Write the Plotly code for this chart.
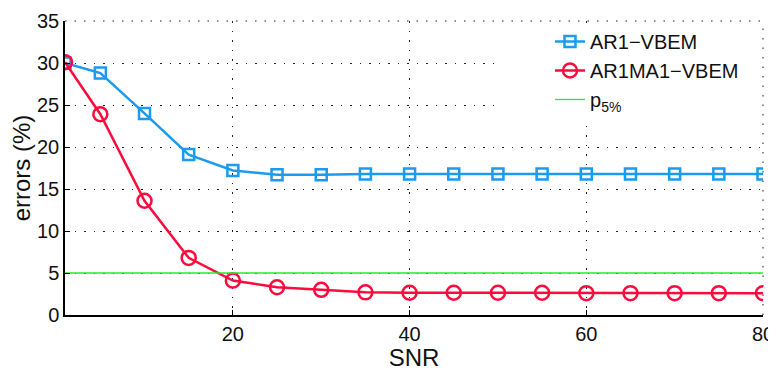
import plotly.graph_objects as go

snr = [1, 5, 10, 15, 20, 25, 30, 35, 40, 45, 50, 55, 60, 65, 70, 75, 80]
ar1_vbem = [30.0, 28.8, 24.0, 19.1, 17.2, 16.7, 16.7, 16.8, 16.8, 16.8, 16.8, 16.8, 16.8, 16.8, 16.8, 16.8, 16.8]
ar1ma1_vbem = [30.1, 23.9, 13.6, 6.8, 4.1, 3.3, 3.0, 2.7, 2.65, 2.65, 2.65, 2.65, 2.6, 2.6, 2.6, 2.6, 2.6]
p5_x = [1, 80]
p5_y = [5, 5]

blue = "#1a9bf0"
red = "#ff0a3c"
green = "#22ee22"

FONT = "Liberation Sans, Arial, sans-serif"
GRID_DASH = "1.5px,8px"
GRID_COLOR = "#222222"

# plot area in window pixels (page body adds an 8px offset)
PL, PR, PT, PB = 65, 763, 21, 315
W, H = 768, 363


def px(x):
    return (x - PL) / (PR - PL)


def py(y):
    return (PB - y) / (PB - PT)


fig = go.Figure()
fig.add_trace(go.Scatter(x=snr, y=ar1_vbem, mode="lines+markers", name="AR1\u2212VBEM",
                         line=dict(color=blue, width=2.5),
                         marker=dict(symbol="square-open", size=11, color=blue, line=dict(width=2.5))))
fig.add_trace(go.Scatter(x=snr, y=ar1ma1_vbem, mode="lines+markers", name="AR1MA1\u2212VBEM",
                         line=dict(color=red, width=2.5),
                         marker=dict(symbol="circle-open", size=14, color=red, line=dict(width=2.5))))
fig.add_trace(go.Scatter(x=p5_x, y=p5_y, mode="lines", name="p<sub>5%</sub>",
                         line=dict(color=green, width=1.3)))

# dotted frame on top and right (grid at the axis ends, which plotly skips)
fig.add_shape(type="line", xref="paper", yref="paper", x0=0, x1=1, y0=1, y1=1,
              line=dict(color=GRID_COLOR, width=1, dash=GRID_DASH), layer="below")
fig.add_shape(type="line", xref="paper", yref="paper", x0=1, x1=1, y0=0, y1=1,
              line=dict(color=GRID_COLOR, width=1, dash=GRID_DASH), layer="below")

# white box behind the legend (hides grid there, like the reference)
fig.add_shape(type="rect", xref="paper", yref="paper",
              x0=px(502), x1=px(760), y0=py(124), y1=py(27),
              fillcolor="white", line=dict(width=0), layer="above")

fig.update_layout(
    template="none",
    width=W, height=H,
    margin=dict(l=PL - 8, r=W + 8 - PR, t=PT - 8, b=H + 8 - PB, autoexpand=False),
    paper_bgcolor="white", plot_bgcolor="white",
    font=dict(family=FONT, size=20, color="#111111"),
    showlegend=True,
    legend=dict(x=px(550), y=py(22), xanchor="left", yanchor="top",
                bgcolor="rgba(255,255,255,0)",
                font=dict(family=FONT, size=20, color="#111111"),
                tracegroupgap=0),
    xaxis=dict(range=[1, 80], tickvals=[20, 40, 60, 80], showgrid=True, automargin=False,
               gridcolor=GRID_COLOR, griddash=GRID_DASH, gridwidth=1,
               showline=True, linecolor="black", linewidth=1.5, mirror=False,
               ticks="inside", ticklen=5, tickcolor="black", zeroline=False,
               ticklabeloverflow="allow",
               title=dict(text="SNR", standoff=9)),
    yaxis=dict(range=[0, 35], tickvals=[0, 5, 10, 15, 20, 25, 30, 35], showgrid=True, automargin=False,
               gridcolor=GRID_COLOR, griddash=GRID_DASH, gridwidth=1,
               showline=True, linecolor="black", linewidth=1.5, mirror=False,
               ticks="inside", ticklen=5, tickcolor="black", zeroline=False,
               ticklabeloverflow="allow",
               title=dict(text="errors (%)", standoff=16)),
)
fig.write_html("out.html")
